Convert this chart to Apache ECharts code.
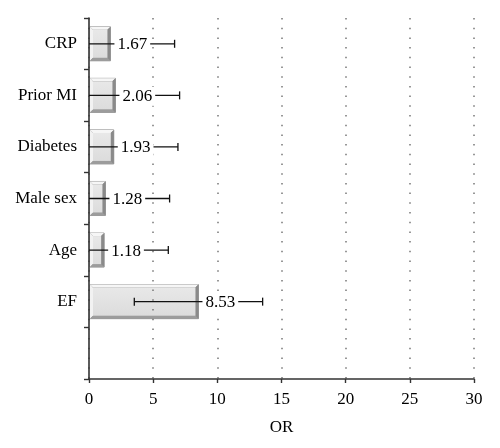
<!DOCTYPE html>
<html>
<head>
<meta charset="utf-8">
<script src="https://cdn.jsdelivr.net/npm/echarts@6/dist/echarts.min.js"></script>
<style>html,body{margin:0;padding:0;background:#fff;}#c{width:500px;height:448px;}</style>
</head>
<body>
<div id="c"></div>
<script>
// Categories, top to bottom (last slot is empty)
const categories = ['CRP', 'Prior MI', 'Diabetes', 'Male sex', 'Age', 'EF', ''];
// Odds ratios
const orValues = [1.67, 2.06, 1.93, 1.28, 1.18, 8.53];
// Error bar ends (lower ends below 0 are hidden behind the axis)
const errLow = [0, 0, 0, 0, 0, 3.53];
const errHigh = [6.67, 7.06, 6.93, 6.28, 6.18, 13.53];
// X ticks
const xTicks = [0, 5, 10, 15, 20, 25, 30];

const FONT = '"Liberation Serif", "DejaVu Serif", serif';
const chart = echarts.init(document.getElementById('c'), null, {renderer: 'canvas'});

const barData = orValues.map((v, i) => [v, i]);
const errData = orValues.map((v, i) => [v, i, errLow[i], errHigh[i]]);

function renderBar(params, api) {
  const v = api.value(0), idx = api.value(1);
  const p0 = api.coord([0, idx]);
  const p1 = api.coord([v, idx]);
  const h = api.size([0, 1])[1] * 0.66;
  const x0 = p0[0] + 1, x1 = p1[0], y0 = p0[1] - h / 2, y1 = p0[1] + h / 2;
  const b = 3;
  return {
    type: 'group',
    children: [
      {type: 'rect', shape: {x: x0, y: y0, width: x1 - x0, height: y1 - y0}, style: {fill: '#8c8c8c', stroke: '#9a9a9a', lineWidth: 1}},
      {type: 'polygon', shape: {points: [[x0, y0], [x1, y0], [x1 - b, y0 + b], [x0 + b, y0 + b]]}, style: {fill: '#f6f6f6'}},
      {type: 'polygon', shape: {points: [[x0, y0], [x0 + b, y0 + b], [x0 + b, y1 - b], [x0, y1]]}, style: {fill: '#f2f2f2'}},
      {type: 'polygon', shape: {points: [[x1, y0], [x1, y1], [x1 - b, y1 - b], [x1 - b, y0 + b]]}, style: {fill: '#8a8a8a'}},
      {type: 'polygon', shape: {points: [[x0, y1], [x1, y1], [x1 - b, y1 - b], [x0 + b, y1 - b]]}, style: {fill: '#9c9c9c'}},
      {type: 'rect', shape: {x: x0 + b, y: y0 + b, width: Math.max(0, x1 - x0 - 2 * b), height: y1 - y0 - 2 * b},
        style: {fill: new echarts.graphic.LinearGradient(0, 0, 0, 1, [{offset: 0, color: '#e8e8e8'}, {offset: 1, color: '#dcdcdc'}])}}
    ]
  };
}

function renderErr(params, api) {
  const v = api.value(0), idx = api.value(1), lo = api.value(2), hi = api.value(3);
  const pc = api.coord([v, idx]);
  const pl = api.coord([lo, idx]);
  const ph = api.coord([hi, idx]);
  const y = pc[1];
  const capH = 4;
  const ls = {stroke: '#111', lineWidth: 1.3};
  const children = [
    {type: 'line', shape: {x1: pl[0], y1: y, x2: ph[0], y2: y}, style: ls},
    {type: 'line', shape: {x1: ph[0], y1: y - capH, x2: ph[0], y2: y + capH}, style: ls}
  ];
  if (lo > 0) {
    children.push({type: 'line', shape: {x1: pl[0], y1: y - capH, x2: pl[0], y2: y + capH}, style: ls});
  }
  children.push({
    type: 'text',
    style: {
      text: v.toFixed(2), x: pc[0] + 4, y: y + 1,
      fontFamily: FONT, fontSize: 17, fill: '#000',
      verticalAlign: 'middle', align: 'left',
      backgroundColor: '#fff', padding: [1, 3, 1, 3]
    }
  });
  return {type: 'group', children};
}

chart.setOption({
  animation: false,
  grid: {left: 89, right: 26, top: 18, bottom: 69, containLabel: false},
  xAxis: {
    type: 'value', min: 0, max: 30, interval: 5, z: 1.5,
    name: 'OR', nameLocation: 'middle', nameGap: 40,
    nameTextStyle: {fontFamily: FONT, fontSize: 17, color: '#000'},
    axisLine: {show: true, lineStyle: {color: '#333', width: 1.6}},
    axisTick: {show: true, length: 4, lineStyle: {color: '#333', width: 1.4}},
    axisLabel: {fontFamily: FONT, fontSize: 17, color: '#000', margin: 12,
      formatter: (val) => xTicks.indexOf(val) >= 0 ? String(val) : ''},
    splitLine: {show: true, lineStyle: {color: '#777', width: 1.5, type: [1.5, 8.2]}}
  },
  yAxis: {
    type: 'category', data: categories, inverse: true, z: 1.6,
    axisLine: {show: true, lineStyle: {color: '#333', width: 1.6}},
    axisTick: {show: true, length: 5, alignWithLabel: false, lineStyle: {color: '#333', width: 1.4}},
    axisLabel: {fontFamily: FONT, fontSize: 17, color: '#000', margin: 12},
    splitLine: {show: false}
  },
  series: [
    {type: 'custom', z: 1, renderItem: renderBar, encode: {x: 0, y: 1}, data: barData, clip: false},
    {type: 'custom', z: 3, renderItem: renderErr, encode: {x: [0, 2, 3], y: 1}, data: errData, clip: false}
  ]
});
</script>
</body>
</html>
